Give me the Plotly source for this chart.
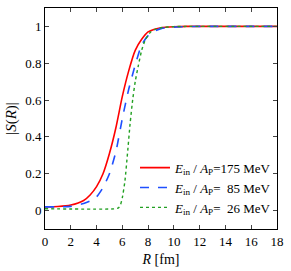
import plotly.graph_objects as go

R_red = [0, 1, 2, 3, 3.5, 4, 4.5, 5, 5.5, 6, 6.5, 7, 7.5, 8, 8.5, 9, 10, 11, 18]
S_red = [0.02, 0.022, 0.03, 0.055, 0.085, 0.13, 0.2, 0.31, 0.45, 0.62, 0.76, 0.87, 0.93, 0.97, 0.985, 0.993, 0.998, 1.0, 1.0]

R_blue = [0, 1, 2, 3, 3.5, 4, 4.5, 5, 5.5, 6, 6.5, 7, 7.5, 8, 8.5, 9, 10, 11, 12, 18]
S_blue = [0.02, 0.02, 0.023, 0.038, 0.052, 0.075, 0.125, 0.2, 0.32, 0.5, 0.66, 0.79, 0.9, 0.95, 0.975, 0.988, 0.996, 0.999, 1.0, 1.0]

R_green = [0, 5.5, 5.7, 5.85, 6.0, 6.2, 6.4, 6.6, 6.8, 7.0, 7.25, 7.5, 7.8, 8.2, 8.6, 9, 10, 11, 18]
S_green = [0.01, 0.01, 0.015, 0.03, 0.07, 0.16, 0.31, 0.47, 0.6, 0.7, 0.79, 0.87, 0.93, 0.97, 0.985, 0.993, 0.999, 1.0, 1.0]

labels = [
    "<i>E</i><sub>in</sub> / <i>A</i><sub>P</sub>=175 MeV",
    "<i>E</i><sub>in</sub> / <i>A</i><sub>P</sub>=  85 MeV",
    "<i>E</i><sub>in</sub> / <i>A</i><sub>P</sub>=  26 MeV",
]

x_ticks = [0, 2, 4, 6, 8, 10, 12, 14, 16, 18]
y_ticks = [0, 0.2, 0.4, 0.6, 0.8, 1]
y_ticklabels = ["0", "0.2", "0.4", "0.6", "0.8", "1"]

fig = go.Figure()
fig.add_trace(go.Scatter(x=R_red, y=S_red, mode="lines", name=labels[0],
                         line=dict(color="#ff0000", width=1.6, shape="spline", smoothing=0.6)))
fig.add_trace(go.Scatter(x=R_blue, y=S_blue, mode="lines", name=labels[1],
                         line=dict(color="#1f4fff", width=1.6, dash="dash", shape="spline", smoothing=0.6)))
fig.add_trace(go.Scatter(x=R_green, y=S_green, mode="lines", name=labels[2],
                         line=dict(color="#22a022", width=1.4, dash="dot", shape="spline", smoothing=0.6)))

font_family = "Liberation Serif, Times New Roman, serif"
fig.update_layout(
    width=291, height=271,
    margin=dict(l=45, r=12, t=7, b=38),
    paper_bgcolor="white", plot_bgcolor="white",
    font=dict(family=font_family, size=13, color="black"),
    showlegend=True,
    legend=dict(x=1.0, y=0.187, xanchor="right", yanchor="middle",
                bgcolor="rgba(0,0,0,0)", font=dict(size=13, family=font_family),
                itemwidth=30, tracegroupgap=0),
)
fig.update_xaxes(
    range=[0, 18], tickvals=x_ticks, ticks="inside", ticklen=4, mirror="ticks",
    showline=True, linecolor="black", linewidth=1, showgrid=False, zeroline=False,
    title=dict(text="<i>R</i> [fm]", font=dict(size=14), standoff=6),
)
fig.update_yaxes(
    range=[-0.1, 1.1], tickvals=y_ticks, ticktext=y_ticklabels, ticks="inside", ticklen=4,
    mirror="ticks", showline=True, linecolor="black", linewidth=1, showgrid=False, zeroline=False,
    title=dict(text="|<i>S</i>(<i>R</i>)|", font=dict(size=15), standoff=4),
)
fig.write_html("out.html", config={"displayModeBar": False},
               post_script="document.body.style.margin='0px';document.body.style.padding='0px';")
